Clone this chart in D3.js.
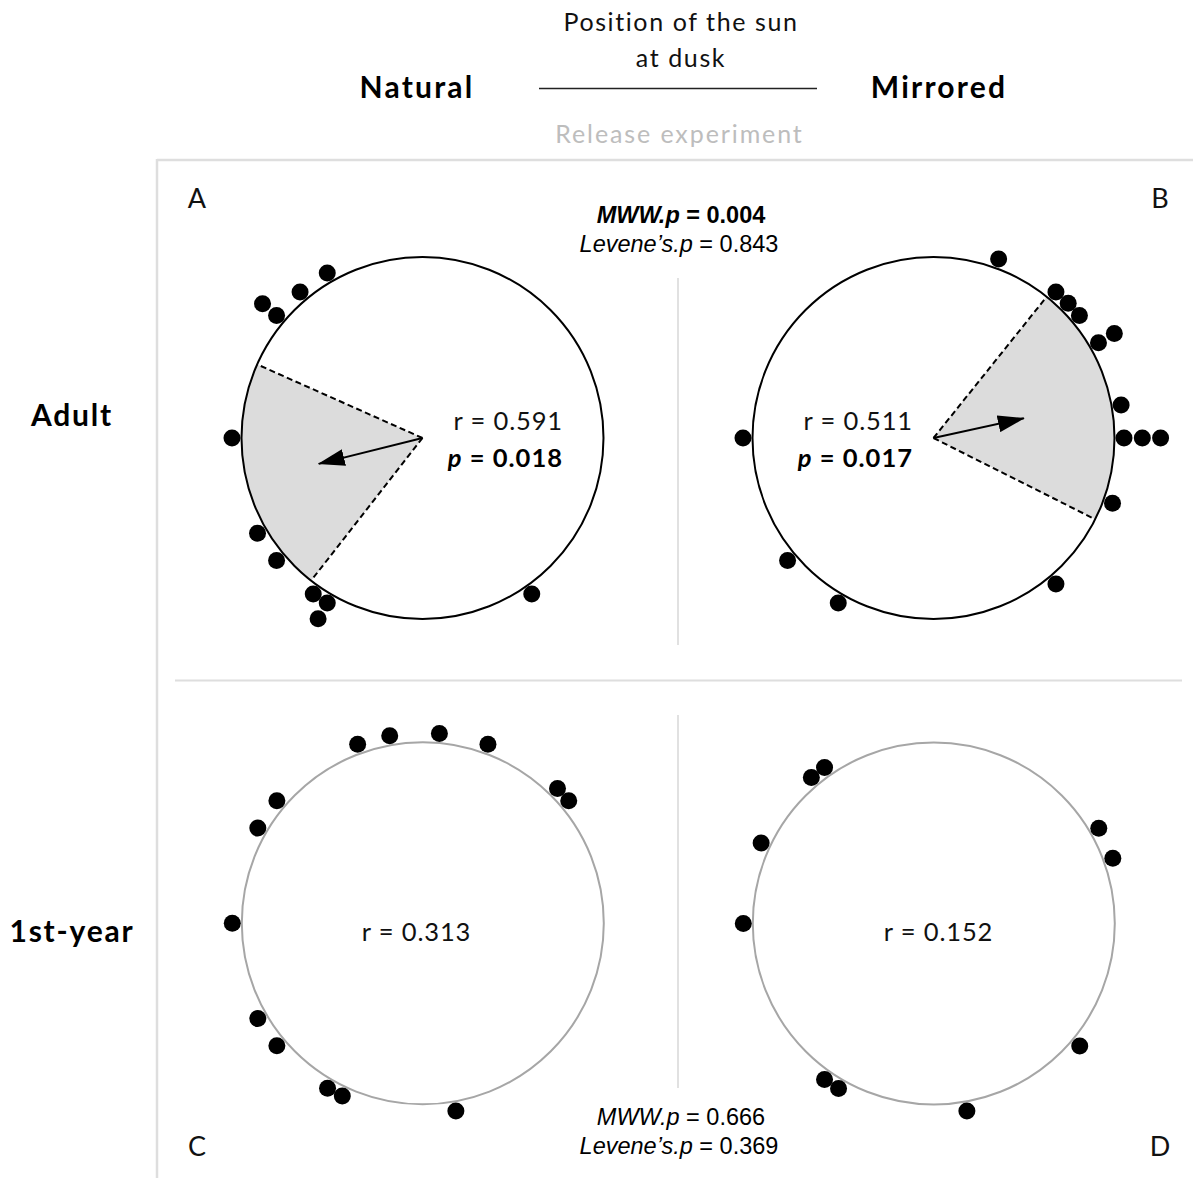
<!DOCTYPE html>
<html>
<head>
<meta charset="utf-8">
<script src="https://cdn.jsdelivr.net/npm/d3@7"></script>
<style>
  html, body { margin: 0; padding: 0; background: #fff; }
  svg { display: block; }
  .cal { font-family: Lato, "Open Sans", sans-serif; }
  .ari { font-family: "Liberation Sans", Arial, sans-serif; }
</style>
</head>
<body>
<svg id="chart" width="1193" height="1178"></svg>
<script>
// ---------------- DATA ----------------
const panelIds   = ["A", "B", "C", "D"];
const columns    = ["Natural", "Mirrored"];
const rows       = ["Adult", "1st-year"];
// individual headings (compass degrees, 0 = top, clockwise)
const bearingsA = [330, 320, 310, 310, 270, 240, 230, 215, 210, 210, 145];
const bearingsB = [20, 40, 45, 50, 60, 60, 80, 90, 90, 90, 110, 140, 210, 230, 270];
const bearingsC = [340, 350, 5, 20, 45, 50, 310, 300, 270, 240, 230, 210, 205, 170];
const bearingsD = [325, 320, 295, 270, 60, 70, 130, 215, 210, 170];
const meanBearings = [256, 77.7, null, null];
const ciHalfWidth  = [38, 39, null, null];
const rValues      = ["0.591", "0.511", "0.313", "0.152"];
const pValues      = ["0.018", "0.017", null, null];
const adultStats   = { mww: "0.004", levene: "0.843" };
const juvStats     = { mww: "0.666", levene: "0.369" };

// ---------------- LAYOUT ----------------
const svg = d3.select("#chart");
const R = 181;
const rScale = d3.scaleLinear().domain([0, 1]).range([0, R]);
const aScale = d3.scaleLinear().domain([0, 360]).range([0, 2 * Math.PI]);
const dotR = 8.5, dotBase = R + 9.5, dotStep = 18.3;

const panels = [
  { id: "A", cx: 422.5, cy: 438, data: bearingsA, stroke: "#000", i: 0, txtX: 563, txtAnchor: "end" },
  { id: "B", cx: 933.5, cy: 438, data: bearingsB, stroke: "#000", i: 1, txtX: 913, txtAnchor: "end" },
  { id: "C", cx: 422.8, cy: 923.3, data: bearingsC, stroke: "#a6a6a6", i: 2, txtX: 416.5, txtAnchor: "middle" },
  { id: "D", cx: 933.8, cy: 923.5, data: bearingsD, stroke: "#a6a6a6", i: 3, txtX: 938.5, txtAnchor: "middle" }
];

// frame lines
const grid = svg.append("g").attr("stroke", "#dedede").attr("fill", "none");
grid.append("line").attr("x1", 157).attr("x2", 157).attr("y1", 159).attr("y2", 1178).attr("stroke-width", 2.5);
grid.append("line").attr("x1", 157).attr("x2", 1193).attr("y1", 160).attr("y2", 160).attr("stroke-width", 2.5);
grid.append("line").attr("x1", 175).attr("x2", 1182).attr("y1", 680.5).attr("y2", 680.5).attr("stroke-width", 1.8);
grid.append("line").attr("x1", 678).attr("x2", 678).attr("y1", 278).attr("y2", 645).attr("stroke-width", 1.8);
grid.append("line").attr("x1", 678).attr("x2", 678).attr("y1", 715).attr("y2", 1088).attr("stroke-width", 1.8);

// header
const hdr = svg.append("g").attr("class", "cal").attr("text-anchor", "middle");
hdr.append("text").attr("x", 681).attr("y", 31).attr("font-size", 25).attr("letter-spacing", 1.6).attr("fill", "#111").text("Position of the sun");
hdr.append("text").attr("x", 681).attr("y", 67).attr("font-size", 25).attr("letter-spacing", 1.6).attr("fill", "#111").text("at dusk");
hdr.append("line").attr("x1", 539).attr("x2", 817).attr("y1", 88.5).attr("y2", 88.5).attr("stroke", "#222").attr("stroke-width", 1.3);
hdr.append("text").attr("x", 679.5).attr("y", 143).attr("font-size", 25).attr("letter-spacing", 1.9).attr("fill", "#bdbdbd").text("Release experiment");
hdr.selectAll("text.col").data(columns).join("text").attr("class", "col")
  .attr("x", (d, i) => i === 0 ? 417 : 939).attr("y", 98)
  .attr("font-size", 30).attr("letter-spacing", 2.2).attr("font-weight", "bold").attr("fill", "#000").text(d => d);

// row labels
svg.append("g").attr("class", "cal").attr("text-anchor", "middle")
  .selectAll("text").data(rows).join("text")
  .attr("x", 72).attr("y", (d, i) => i === 0 ? 426 : 942)
  .attr("font-size", 30).attr("letter-spacing", 1.8).attr("font-weight", "bold").attr("fill", "#000").text(d => d);

// panel letters
const letterPos = { A: [197, 208], B: [1160, 208], C: [197, 1156], D: [1160, 1156] };
svg.append("g").attr("class", "cal").attr("text-anchor", "middle")
  .selectAll("text").data(panelIds).join("text")
  .attr("x", d => letterPos[d][0]).attr("y", d => letterPos[d][1])
  .attr("font-size", 27).attr("fill", "#111").text(d => d);

// arrow marker
svg.append("defs").append("marker")
  .attr("id", "head").attr("markerUnits", "userSpaceOnUse")
  .attr("viewBox", "0 0 27 17").attr("refX", 26).attr("refY", 8.5)
  .attr("markerWidth", 27).attr("markerHeight", 17).attr("orient", "auto")
  .append("path").attr("d", "M0,0 L27,8.5 L0,17 Z").attr("fill", "#000");

const arcGen = d3.arc();

panels.forEach(p => {
  const g = svg.append("g").attr("transform", `translate(${p.cx},${p.cy})`);
  const m = meanBearings[p.i];
  if (m !== null) {
    const a0 = aScale(m - ciHalfWidth[p.i]), a1 = aScale(m + ciHalfWidth[p.i]);
    g.append("path")
      .attr("d", arcGen({ innerRadius: 0, outerRadius: rScale(1), startAngle: a0, endAngle: a1 }))
      .attr("fill", "#dcdcdc");
  }
  g.append("circle").attr("r", rScale(1)).attr("fill", "none")
    .attr("stroke", p.stroke).attr("stroke-width", 2);
  if (m !== null) {
    const a0 = aScale(m - ciHalfWidth[p.i]), a1 = aScale(m + ciHalfWidth[p.i]);
    [a0, a1].forEach(a => {
      g.append("line").attr("x1", 0).attr("y1", 0)
        .attr("x2", rScale(1) * Math.sin(a)).attr("y2", -rScale(1) * Math.cos(a))
        .attr("stroke", "#000").attr("stroke-width", 2).attr("stroke-dasharray", "6,3.5");
    });
    const am = aScale(m), len = rScale(+rValues[p.i]);
    g.append("line").attr("x1", 0).attr("y1", 0)
      .attr("x2", len * Math.sin(am)).attr("y2", -len * Math.cos(am))
      .attr("stroke", "#000").attr("stroke-width", 2).attr("marker-end", "url(#head)");
  }
  const counts = {};
  const pts = p.data.map(b => {
    const k = counts[b] || 0; counts[b] = k + 1;
    const rr = dotBase + k * dotStep, a = aScale(b);
    return { x: rr * Math.sin(a), y: -rr * Math.cos(a) };
  });
  g.selectAll("circle.dot").data(pts).join("circle").attr("class", "dot")
    .attr("cx", d => d.x).attr("cy", d => d.y).attr("r", dotR).attr("fill", "#000");

  const t = svg.append("g").attr("class", "cal").attr("text-anchor", p.txtAnchor);
  const yOff = p.i < 2 ? 430 : 941;
  t.append("text").attr("x", p.txtX).attr("y", yOff).attr("font-size", 25.5).attr("letter-spacing", 0.85).attr("fill", "#111")
    .text("r = " + rValues[p.i]);
  if (pValues[p.i]) {
    const pt = t.append("text").attr("x", p.txtX).attr("y", 466.5).attr("font-size", 25.5).attr("letter-spacing", 1)
      .attr("font-weight", "bold").attr("fill", "#000");
    pt.append("tspan").attr("font-style", "italic").text("p");
    pt.append("tspan").text(" = " + pValues[p.i]);
  }
});

function statBlock(y1, y2, s, boldMww) {
  const g = svg.append("g").attr("class", "ari").attr("text-anchor", "middle").attr("font-size", 23.5).attr("fill", "#000");
  const t1 = g.append("text").attr("x", 681).attr("y", y1);
  t1.append("tspan").attr("font-style", "italic").attr("font-weight", boldMww ? "bold" : "normal").text("MWW.p");
  t1.append("tspan").attr("font-weight", boldMww ? "bold" : "normal").text(" = " + s.mww);
  const t2 = g.append("text").attr("x", 679).attr("y", y2);
  t2.append("tspan").attr("font-style", "italic").text("Levene\u2019s.p");
  t2.append("tspan").text(" = " + s.levene);
}
statBlock(223, 252, adultStats, true);
statBlock(1125, 1154, juvStats, false);
</script>
</body>
</html>
